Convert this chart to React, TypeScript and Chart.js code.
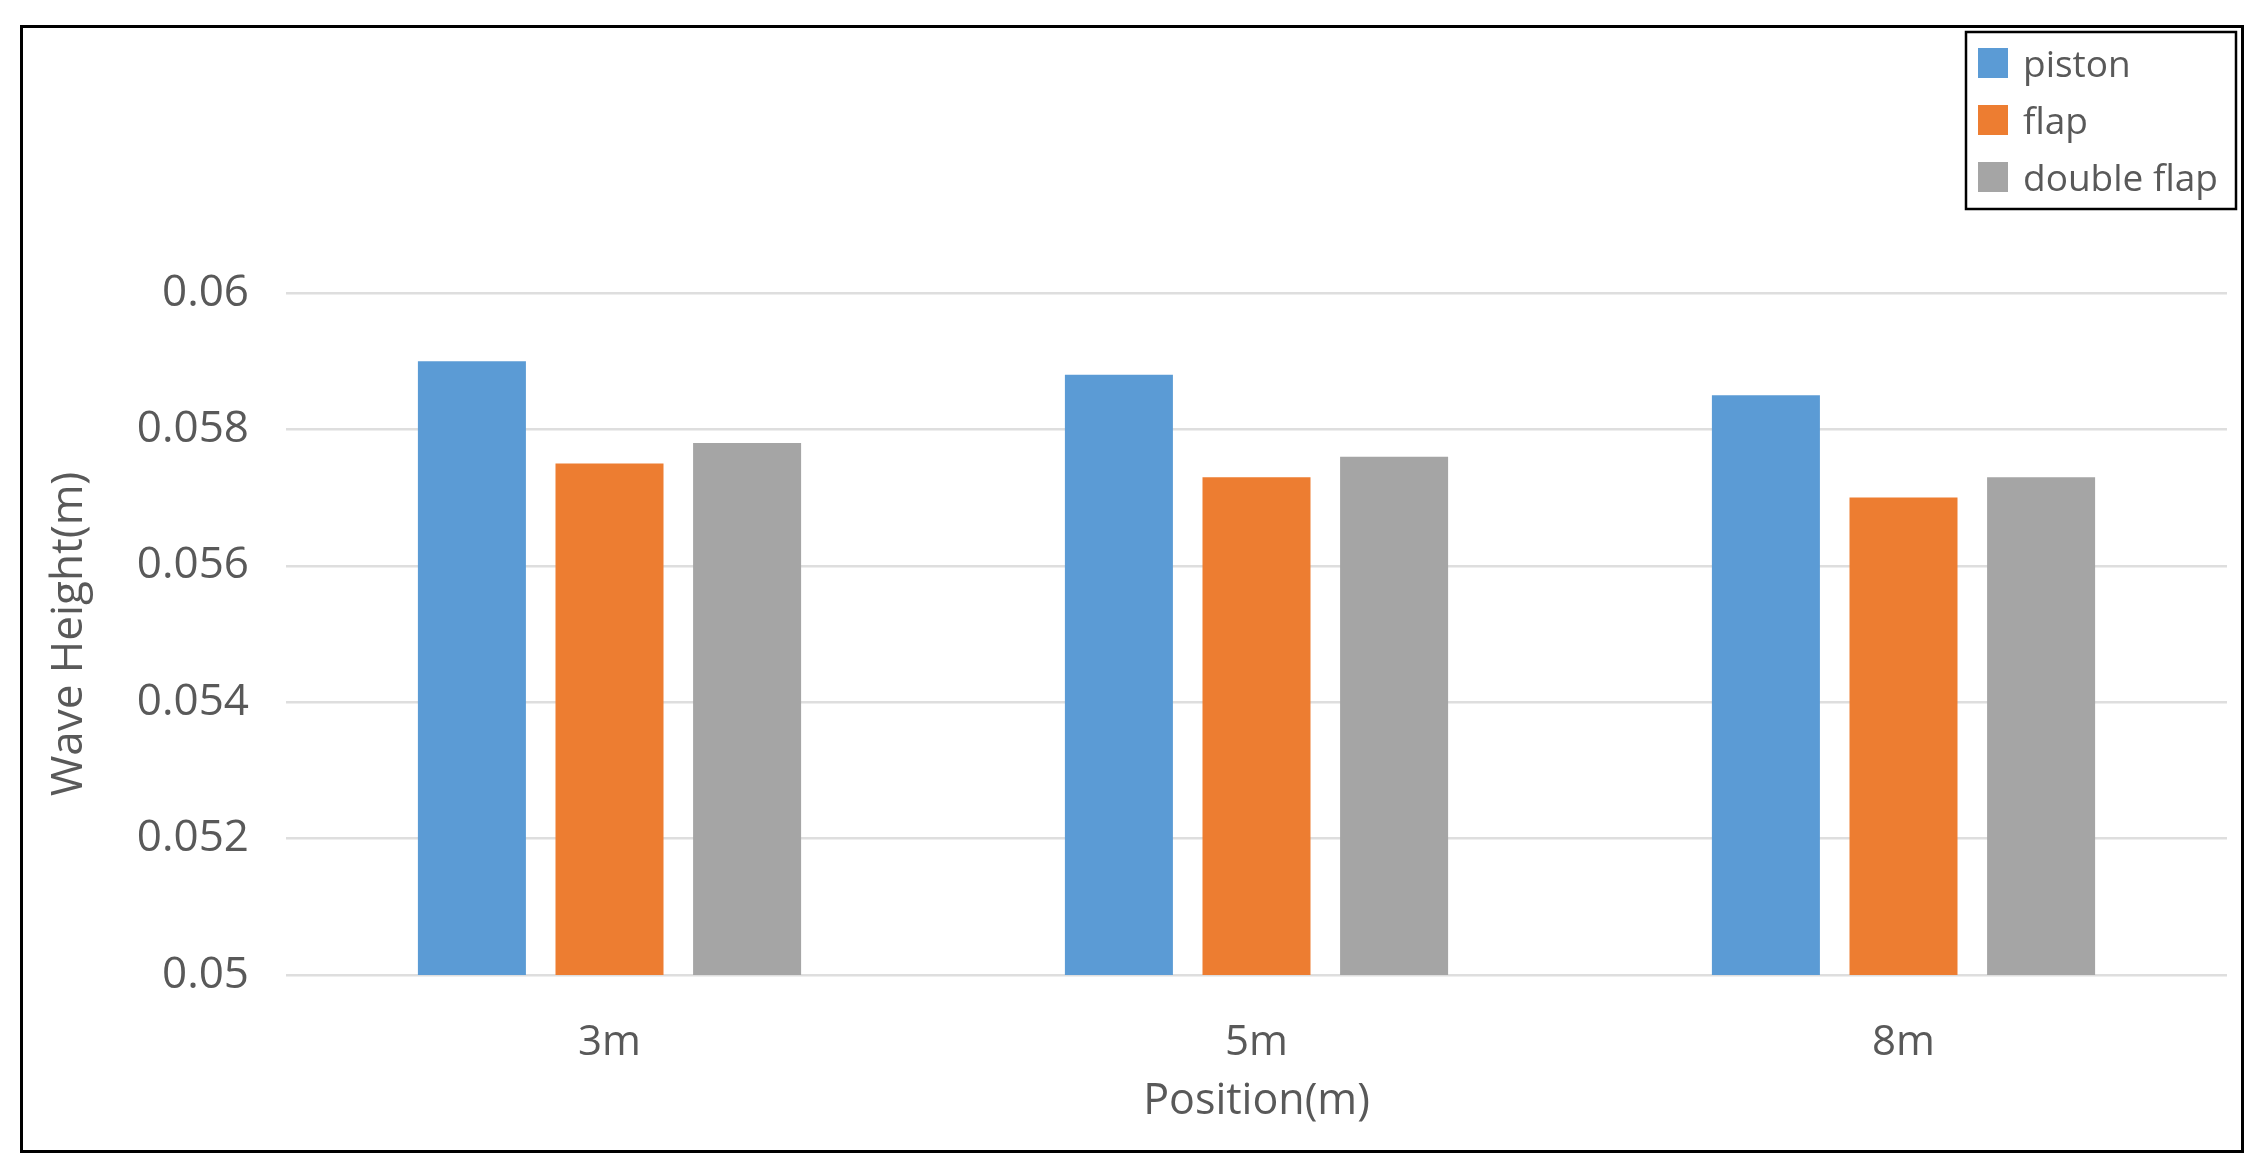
import React, { useEffect, useRef } from "react";
import { Chart, registerables } from "chart.js";

Chart.register(...registerables);

// ---- data ----
const categories = ["3m", "5m", "8m"];
const seriesNames = ["piston", "flap", "double flap"];
const pistonValues = [0.059, 0.0588, 0.0585];
const flapValues = [0.0575, 0.0573, 0.057];
const doubleFlapValues = [0.0578, 0.0576, 0.0573];
const seriesColors = ["#5B9BD5", "#ED7D31", "#A5A5A5"];
const yMin = 0.05;
const yMax = 0.06;
const yStep = 0.002;
const xAxisTitle = "Position(m)";
const yAxisTitle = "Wave Height(m)";

const FONT = "'Open Sans', 'DejaVu Sans', sans-serif";
const TEXT_COLOR = "#595959";

const frameAndLegendPlugin = {
  id: "frameAndLegend",
  afterDraw(chart: any) {
    const ctx = chart.ctx as CanvasRenderingContext2D;
    ctx.save();
    // outer frame
    ctx.strokeStyle = "#000000";
    ctx.lineWidth = 3;
    ctx.strokeRect(21.5, 26.5, 2221, 1125);
    // legend box
    ctx.lineWidth = 2.5;
    ctx.strokeRect(1966, 32, 270, 177);
    ctx.font = `37px ${FONT}`;
    ctx.textBaseline = "alphabetic";
    ctx.textAlign = "left";
    chart.data.datasets.forEach((ds: any, i: number) => {
      const top = 48 + i * 57;
      ctx.fillStyle = ds.backgroundColor;
      ctx.fillRect(1978, top, 30, 30);
      ctx.fillStyle = TEXT_COLOR;
      ctx.fillText(ds.label, 2023, top + 29);
    });
    ctx.restore();
  },
};

export default function App() {
  const canvasRef = useRef<HTMLCanvasElement | null>(null);

  useEffect(() => {
    if (!canvasRef.current) return;
    const seriesValues = [pistonValues, flapValues, doubleFlapValues];
    const chart = new Chart(canvasRef.current, {
      type: "bar",
      data: {
        labels: categories,
        datasets: seriesNames.map((name, i) => ({
          label: name,
          data: seriesValues[i],
          backgroundColor: seriesColors[i],
          borderWidth: 0,
          barPercentage: 0.785,
          categoryPercentage: 0.638,
        })),
      },
      options: {
        animation: false,
        responsive: true,
        maintainAspectRatio: false,
        layout: { padding: { top: 293, right: 39, bottom: 0, left: 0 } },
        plugins: {
          legend: { display: false },
          tooltip: { enabled: false },
          title: { display: false },
        },
        scales: {
          x: {
            grid: { display: false, drawTicks: false },
            border: { display: false },
            ticks: {
              color: TEXT_COLOR,
              font: { family: FONT, size: 42 },
              padding: 43,
              maxRotation: 0,
            },
            title: {
              display: true,
              text: xAxisTitle,
              color: TEXT_COLOR,
              font: { family: FONT, size: 43 },
              padding: { top: 0, bottom: 43 },
            },
            afterFit: (scale: any) => {
              scale.height = 196;
            },
          },
          y: {
            min: yMin,
            max: yMax,
            grid: { color: "#DEDEDE", lineWidth: 2.5, drawTicks: false },
            border: { display: false },
            ticks: {
              stepSize: yStep,
              color: TEXT_COLOR,
              font: { family: FONT, size: 44 },
              padding: 37,
              callback: (v: any) => String(Number(Number(v).toFixed(3))),
            },
            title: {
              display: true,
              text: yAxisTitle,
              color: TEXT_COLOR,
              font: { family: FONT, size: 44 },
              padding: { top: 43, bottom: 0 },
            },
            afterFit: (scale: any) => {
              scale.width = 286;
            },
          },
        },
      },
      plugins: [frameAndLegendPlugin],
    });
    return () => chart.destroy();
  }, []);

  return (
    <div
      style={{
        position: "fixed",
        left: 0,
        top: 0,
        width: "2266px",
        height: "1171px",
        background: "#ffffff",
      }}
    >
      <canvas ref={canvasRef} />
    </div>
  );
}
